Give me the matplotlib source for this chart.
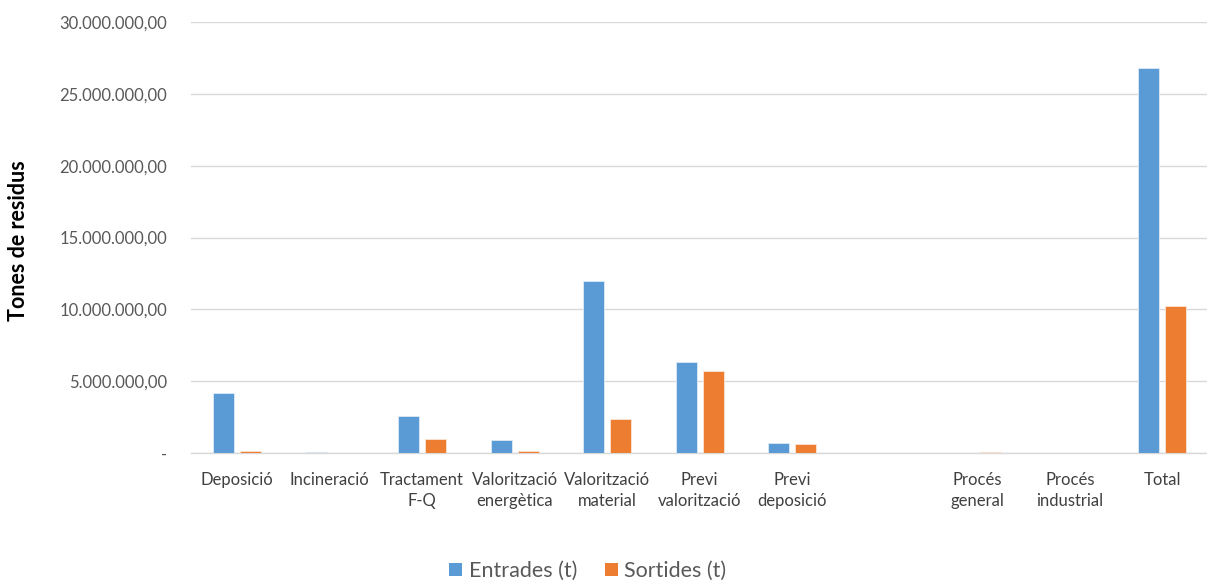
import matplotlib
matplotlib.use("Agg")
import matplotlib.pyplot as plt
import numpy as np
from matplotlib.ticker import FuncFormatter, MultipleLocator
from matplotlib.patches import Patch

categories = ["Deposició", "Incineració", "Tractament\nF-Q", "Valorització\nenergètica",
              "Valorització\nmaterial", "Previ\nvalorització", "Previ\ndeposició", "",
              "Procés\ngeneral", "Procés\nindustrial", "Total"]
entrades = [4180000, 60000, 2550000, 900000, 12000000, 6310000, 720000, 0, 0, 0, 26800000]
sortides = [150000, 0, 960000, 120000, 2370000, 5710000, 630000, 0, 100000, 0, 10250000]
series_names = ["Entrades (t)", "Sortides (t)"]
colors = ["#5B9BD5", "#ED7D31"]

plt.rcParams['font.family'] = ['Lato', 'DejaVu Sans']

fig = plt.figure(figsize=(12.07, 5.81), dpi=100)
ax = fig.add_axes([190.7/1207, 1-453/581, 1018/1207, 431/581])

x = np.arange(len(categories))
w = 0.227
off = 0.146
ax.bar(x - off, entrades, w, color=colors[0], edgecolor="#DDEBF7", linewidth=0.6, label=series_names[0], zorder=3)
ax.bar(x + off, sortides, w, color=colors[1], edgecolor="#FBE5D6", linewidth=0.6, label=series_names[1], zorder=3)

ax.set_xlim(-0.5, len(categories) - 0.5)
ax.set_ylim(0, 30000000)
ax.yaxis.set_major_locator(MultipleLocator(5000000))

def fmt(v, pos):
    if abs(v) < 1:
        return "-"
    s = f"{v:,.2f}"
    return s.replace(",", "X").replace(".", ",").replace("X", ".")
ax.yaxis.set_major_formatter(FuncFormatter(fmt))

ax.grid(axis='y', color="#D9D9D9", linewidth=1.0, zorder=0)
for s in ["top", "right", "left"]:
    ax.spines[s].set_visible(False)
ax.spines["bottom"].set_color("#D9D9D9")
ax.spines["bottom"].set_linewidth(1.0)
ax.tick_params(axis='both', length=0, colors="#595959", labelsize=12)
ax.tick_params(axis='y', pad=17)
ax.tick_params(axis='x', pad=14, labelcolor="#404040")
ax.set_xticks(x)
ax.set_xticklabels(categories, linespacing=1.35)

fig.text(19/1207, 1-241/581, "Tones de residus", rotation=90, ha='center', va='center',
         fontsize=15.5, fontweight='bold', color="#000000")

handles = [Patch(facecolor=colors[0]), Patch(facecolor=colors[1])]
fig.legend(handles, series_names, loc='center', bbox_to_anchor=(588/1207, 1-571/581),
           ncol=2, frameon=False, fontsize=15.5, handlelength=0.6, handleheight=0.6,
           handletextpad=0.3, columnspacing=1.3, labelcolor="#595959")

fig.savefig("out.png", dpi=100)
